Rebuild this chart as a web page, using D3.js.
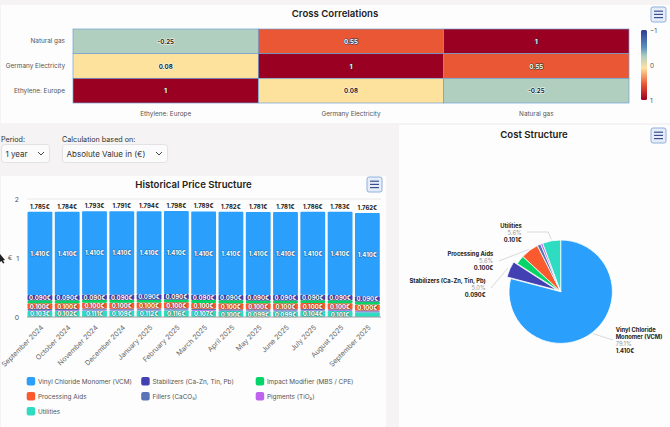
<!DOCTYPE html>
<html>
<head>
<meta charset="utf-8">
<script src="https://cdn.jsdelivr.net/npm/d3@7"></script>
<style>
html, body { margin: 0; padding: 0; background: #f5f3f4; overflow: hidden; }
svg { display: block; font-family: Inter, "Noto Sans", sans-serif; }
.axis path, .axis line { display: none; }
</style>
</head>
<body>
<svg id="chart" width="670" height="427"></svg>
<script>
// heatmap data
var corrX = ["Ethylene: Europe", "Germany Electricity", "Natural gas"];
var corrY = ["Natural gas", "Germany Electricity", "Ethylene: Europe"];
var corrValues = [
    [-0.25, 0.55, 1],
    [0.08, 1, 0.55],
    [1, 0.08, -0.25]
];
var corrStops = [-1, -0.5, -0.25, 0.08, 0.55, 1];
var corrColors = ["#2f3a94", "#5e8fbe", "#b1cfbf", "#fde29e", "#e95735", "#9a0022"];

// bar chart data
var months = ["September 2024", "October 2024", "November 2024", "December 2024", "January 2025", "February 2025",
    "March 2025", "April 2025", "May 2025", "June 2025", "July 2025", "August 2025", "September 2025"];
var totals = [1.785, 1.784, 1.793, 1.791, 1.794, 1.798, 1.789, 1.782, 1.781, 1.781, 1.786, 1.783, 1.762];
var vcm = [1.41, 1.41, 1.41, 1.41, 1.41, 1.41, 1.41, 1.41, 1.41, 1.41, 1.41, 1.41, 1.41];
var stabilizers = [0.09, 0.09, 0.09, 0.09, 0.09, 0.09, 0.09, 0.09, 0.09, 0.09, 0.09, 0.09, 0.09];
var impact = [0.05, 0.05, 0.05, 0.05, 0.05, 0.05, 0.05, 0.05, 0.05, 0.05, 0.05, 0.05, 0.05];
var processing = [0.1, 0.1, 0.1, 0.1, 0.1, 0.1, 0.1, 0.1, 0.1, 0.1, 0.1, 0.1, 0.1];
var fillers = [0.02, 0.02, 0.02, 0.02, 0.02, 0.02, 0.02, 0.02, 0.02, 0.02, 0.02, 0.02, 0.02];
var pigments = [0.012, 0.012, 0.012, 0.012, 0.012, 0.012, 0.012, 0.012, 0.012, 0.012, 0.012, 0.012, 0.012];
var utilities = [0.103, 0.102, 0.111, 0.109, 0.112, 0.116, 0.107, 0.1, 0.099, 0.099, 0.104, 0.101, 0.08];

var seriesNames = ["Vinyl Chloride Monomer (VCM)", "Stabilizers (Ca-Zn, Tin, Pb)", "Impact Modifier (MBS / CPE)",
    "Processing Aids", "Fillers (CaCO\u2083)", "Pigments (TiO\u2082)", "Utilities"];
var seriesValues = [vcm, stabilizers, impact, processing, fillers, pigments, utilities];
var seriesColors = ["#2a9ffc", "#4340b4", "#05d568", "#fb5a2e", "#5a74b8", "#c062f0", "#2edcc2"];

// pie data, latest complete month
var pieValues = [1.41, 0.09, 0.05, 0.1, 0.02, 0.012, 0.101];
var piePercents = ["79.1%", "5.0%", "", "5.6%", "", "", "5.6%"];
var pieAmounts = ["1.410€", "0.090€", "", "0.100€", "", "", "0.101€"];

var periodOptions = ["1 year"];
var calcOptions = ["Absolute Value in (€)"];

var svg = d3.select("#chart");

// panels
svg.append("rect").attr("x", 1).attr("y", 5).attr("width", 669).attr("height", 118).attr("fill", "#fdfdfd");
svg.append("rect").attr("x", 1).attr("y", 176).attr("width", 385).attr("height", 251).attr("fill", "#fdfdfd");
svg.append("rect").attr("x", 399).attr("y", 125).attr("width", 271).attr("height", 302).attr("fill", "#fdfdfd");

var addTitle = function(label, x, y) {
    svg.append("text").attr("x", x).attr("y", y).attr("text-anchor", "middle")
        .attr("font-size", 9.6).attr("font-weight", 600).attr("fill", "#222")
        .text(label);
};
addTitle("Cross Correlations", 335, 17);
addTitle("Cost Structure", 534, 138);
addTitle("Historical Price Structure", 193.5, 188);

var addMenuButton = function(x, y) {
    var g = svg.append("g").attr("transform", "translate(" + x + "," + y + ")");
    g.append("rect").attr("width", 15).attr("height", 15).attr("rx", 2)
        .attr("fill", "#e6edf8").attr("stroke", "#8fb0dc").attr("stroke-width", 1);
    d3.range(3).forEach(function(i) {
        g.append("line").attr("x1", 3).attr("x2", 12).attr("y1", 4.2 + i * 3.2).attr("y2", 4.2 + i * 3.2)
            .attr("stroke", "#3a4f8f").attr("stroke-width", 1.2);
    });
};
addMenuButton(651, 7);
addMenuButton(651, 128);
addMenuButton(367, 177);

// white text with a soft dark halo, used on the marks
var haloText = function(sel, size) {
    sel.attr("text-anchor", "middle").attr("dominant-baseline", "central")
        .attr("font-size", size).attr("font-weight", 700).attr("fill", "#fff")
        .attr("stroke", "#222").attr("stroke-opacity", 0.4).attr("stroke-width", 1).attr("paint-order", "stroke")
        .attr("stroke-linejoin", "round");
};

// ---- heatmap
var heatX = d3.scaleBand().domain(corrX).range([73, 629]);
var heatY = d3.scaleBand().domain(corrY).range([29, 103]);
var heatColor = d3.scaleLinear().domain(corrStops).range(corrColors);

var cells = [];
corrY.forEach(function(row, r) {
    corrX.forEach(function(col, c) {
        cells.push({row: row, col: col, value: corrValues[r][c]});
    });
});

svg.selectAll(".cell").data(cells).enter().append("rect")
    .attr("class", "cell")
    .attr("x", function(d) { return heatX(d.col); })
    .attr("y", function(d) { return heatY(d.row); })
    .attr("width", heatX.bandwidth())
    .attr("height", heatY.bandwidth())
    .attr("fill", function(d) { return heatColor(d.value); })
    .attr("stroke", "#6f9fd0").attr("stroke-width", 0.7);

svg.selectAll(".cell-label").data(cells).enter().append("text")
    .attr("class", "cell-label")
    .attr("x", function(d) { return heatX(d.col) + heatX.bandwidth() / 2; })
    .attr("y", function(d) { return heatY(d.row) + heatY.bandwidth() / 2; })
    .call(function(sel) {
        sel.attr("text-anchor", "middle").attr("dominant-baseline", "central")
            .attr("font-size", 6.2).attr("font-weight", 700);
    })
    .attr("fill", function(d) { return Math.abs(d.value) < 0.5 ? "#222" : "#fff"; })
    .attr("stroke", function(d) { return Math.abs(d.value) < 0.5 ? "#fff" : "#333"; })
    .attr("stroke-width", 1).attr("paint-order", "stroke")
    .text(function(d) { return d.value; });

var heatLeft = svg.append("g").attr("class", "axis")
    .attr("transform", "translate(73,0)")
    .call(d3.axisLeft(heatY).tickSize(0).tickPadding(8));
var heatBottom = svg.append("g").attr("class", "axis")
    .attr("transform", "translate(0,103)")
    .call(d3.axisBottom(heatX).tickSize(0).tickPadding(8));
[heatLeft, heatBottom].forEach(function(a) {
    a.attr("font-family", null).attr("font-size", null);
    a.selectAll("text").attr("font-size", 6.4).attr("fill", "#555");
});

// colour bar
var barScale = d3.scaleLinear().domain([-1, 1]).range([30, 100]);
var defs = svg.append("defs");
var grad = defs.append("linearGradient").attr("id", "corrGrad")
    .attr("x1", 0).attr("x2", 0).attr("y1", 0).attr("y2", 1);
corrStops.forEach(function(s, i) {
    grad.append("stop").attr("offset", (s + 1) / 2).attr("stop-color", corrColors[i]);
});
svg.append("rect").attr("x", 641).attr("y", barScale(-1)).attr("width", 6)
    .attr("height", barScale(1) - barScale(-1)).attr("rx", 1.5).attr("fill", "url(#corrGrad)");
var barAxis = svg.append("g").attr("class", "axis")
    .attr("transform", "translate(647,0)")
    .call(d3.axisRight(barScale).tickValues([-1, 0, 1]).tickFormat(d3.format("d")).tickSize(0).tickPadding(3));
barAxis.attr("font-family", null).attr("font-size", null);
barAxis.selectAll("text").attr("font-size", 6.5).attr("fill", "#555");

// ---- filters
var addSelect = function(label, value, x, w) {
    svg.append("text").attr("x", x).attr("y", 141.5).attr("font-size", 7.2).attr("fill", "#333").text(label);
    svg.append("rect").attr("x", x + 0.5).attr("y", 144.5).attr("width", w).attr("height", 18).attr("rx", 3)
        .attr("fill", "#fbfbfb").attr("stroke", "#e2e1e3");
    svg.append("text").attr("x", x + 4.5).attr("y", 157).attr("font-size", 8).attr("fill", "#333").text(value);
    svg.append("path").attr("fill", "none").attr("stroke", "#333").attr("stroke-width", 0.9)
        .attr("d", d3.line()([[x + w - 11, 152], [x + w - 8, 155], [x + w - 5, 152]]));
};
addSelect("Period:", periodOptions[0], 1, 48);
addSelect("Calculation based on:", calcOptions[0], 62, 105);

// ---- stacked bars
var barX = d3.scaleBand().domain(months).range([26.7, 380.6]).paddingInner(0.09).paddingOuter(0.03);
var barY = d3.scaleLinear().domain([0, 2]).range([317, 199]);

svg.append("line").attr("x1", 27).attr("x2", 381).attr("y1", barY(2)).attr("y2", barY(2)).attr("stroke", "#e8e8e8");

// stacked from the last series up, first series lands on top
var stackRows = months.map(function(m, i) {
    var row = {month: m};
    seriesNames.forEach(function(n, s) { row[n] = seriesValues[s][i]; });
    return row;
});
var stacked = d3.stack().keys(seriesNames.slice().reverse())(stackRows);
var colorOf = d3.scaleOrdinal().domain(seriesNames).range(seriesColors);

var layers = svg.selectAll(".layer").data(stacked).enter().append("g")
    .attr("class", "layer").attr("fill", function(d) { return colorOf(d.key); });

layers.selectAll("rect").data(function(d) { return d; }).enter().append("rect")
    .attr("x", function(d) { return barX(d.data.month); })
    .attr("y", function(d) { return barY(d[1]); })
    .attr("width", barX.bandwidth())
    .attr("height", function(d) { return barY(d[0]) - barY(d[1]); })
    .attr("rx", 1);

// labels only on segments tall enough to hold them
layers.each(function(layer) {
    d3.select(this).selectAll("text").data(layer.filter(function(d) { return d[1] - d[0] >= 0.085; }))
        .enter().append("text")
        .attr("x", function(d) { return barX(d.data.month) + barX.bandwidth() / 2; })
        .attr("y", function(d) { return barY((d[0] + d[1]) / 2); })
        .call(haloText, 6)
        .text(function(d) { return (d[1] - d[0]).toFixed(3) + "€"; });
});

svg.selectAll(".total").data(months).enter().append("text")
    .attr("class", "total")
    .attr("x", function(d) { return barX(d) + barX.bandwidth() / 2; })
    .attr("y", function(d, i) { return barY(totals[i]) - 5.5; })
    .attr("text-anchor", "middle").attr("dominant-baseline", "central")
    .attr("font-size", 6).attr("font-weight", 700).attr("fill", "#222")
    .text(function(d, i) { return totals[i].toFixed(3) + "€"; });

svg.append("line").attr("x1", 27).attr("x2", 381).attr("y1", barY(0)).attr("y2", barY(0))
    .attr("stroke", "#9a9a9a").attr("stroke-width", 1);

var yAxis = svg.append("g").attr("class", "axis")
    .attr("transform", "translate(27,0)")
    .call(d3.axisLeft(barY).tickValues([0, 1, 2]).tickFormat(d3.format("d")).tickSize(0).tickPadding(8));
yAxis.attr("font-family", null).attr("font-size", null);
yAxis.selectAll("text").attr("font-size", 6.8).attr("fill", "#555");

svg.append("text").attr("x", 10).attr("y", barY(1) - 1).attr("text-anchor", "middle")
    .attr("dominant-baseline", "central").attr("font-size", 6.8).attr("fill", "#555").text("€");

// mouse pointer caught in the screenshot
svg.append("path").attr("fill", "#222")
    .attr("d", d3.line()([[0, 254], [5, 260], [3, 260.5], [4.5, 263], [3, 263.5], [1.5, 261], [0, 262]]));

var xAxis = svg.append("g").attr("class", "axis")
    .attr("transform", "translate(0," + barY(0) + ")")
    .call(d3.axisBottom(barX).tickSize(0).tickPadding(0));
xAxis.attr("font-family", null).attr("font-size", null);
xAxis.selectAll("text")
    .attr("font-size", 7).attr("fill", "#666")
    .attr("text-anchor", "end").attr("dy", 0)
    .attr("transform", "translate(4,11) rotate(-45)")
    .attr("y", 0);

// legend
var legendCols = 3;
var legend = svg.selectAll(".legend").data(seriesNames).enter().append("g")
    .attr("class", "legend")
    .attr("transform", function(d, i) {
        return "translate(" + (26.7 + (i % legendCols) * 114.5) + "," + (377 + Math.floor(i / legendCols) * 15) + ")";
    });
legend.append("rect").attr("width", 8.5).attr("height", 8.5).attr("rx", 2)
    .attr("fill", function(d) { return colorOf(d); });
legend.append("text").attr("x", 11.2).attr("y", 7).attr("font-size", 6.4).attr("fill", "#555")
    .text(function(d) { return d; });

// ---- pie
var pieCx = 560.7, pieCy = 291.7, pieR = 51.7;
var pieData = d3.pie().sort(null).value(function(d) { return d; })(pieValues);
var arc = d3.arc().innerRadius(0).outerRadius(pieR);
var onCircle = function(d, r) {
    var a = (d.startAngle + d.endAngle) / 2;
    return [pieCx + r * Math.sin(a), pieCy - r * Math.cos(a)];
};

svg.selectAll(".slice").data(pieData).enter().append("path")
    .attr("class", "slice")
    .attr("d", arc)
    .attr("transform", function(d, i) {
        // stabilizers slice is pulled out
        var p = onCircle(d, i === 1 ? 4 : 0);
        return "translate(" + p[0] + "," + p[1] + ")";
    })
    .attr("fill", function(d, i) { return seriesColors[i]; })
    .attr("stroke", "#fff").attr("stroke-width", 0.8);

// label blocks placed around the pie, leader starts on the slice edge
var pieLabels = [
    {i: 0, x: 615.7, y: 329, anchor: "start", lines: ["Vinyl Chloride", "Monomer (VCM)"], end: [613, 340], r: 53},
    {i: 1, x: 485.7, y: 280, anchor: "end", lines: ["Stabilizers (Ca-Zn, Tin, Pb)"], end: [491, 288], r: 58},
    {i: 3, x: 493.3, y: 253, anchor: "end", lines: ["Processing Aids"], end: [499, 261], r: 53},
    {i: 6, x: 521.7, y: 225, anchor: "end", lines: ["Utilities"], end: [527, 232], r: 53}
];
pieLabels.forEach(function(l) {
    var d = pieData[l.i];
    var start = onCircle(d, l.r);
    var elbow = l.i === 6 ? [start[0] - 3, l.end[1]] : start;
    svg.append("path").attr("fill", "none").attr("stroke", "#cfcfcf").attr("stroke-width", 0.8)
        .attr("d", d3.line()([start, elbow, l.end]));
    var rows = l.lines.map(function(t) { return {t: t, c: "#222", w: 700}; })
        .concat([{t: piePercents[l.i], c: "#999", w: 400}, {t: pieAmounts[l.i], c: "#222", w: 700}]);
    svg.selectAll(null).data(rows).enter().append("text")
        .attr("x", l.x)
        .attr("y", function(r, k) { return l.y + k * 7; })
        .attr("text-anchor", l.anchor).attr("dominant-baseline", "central")
        .attr("font-size", 5.8)
        .attr("font-weight", function(r) { return r.w; })
        .attr("fill", function(r) { return r.c; })
        .text(function(r) { return r.t; });
});
</script>
</body>
</html>
